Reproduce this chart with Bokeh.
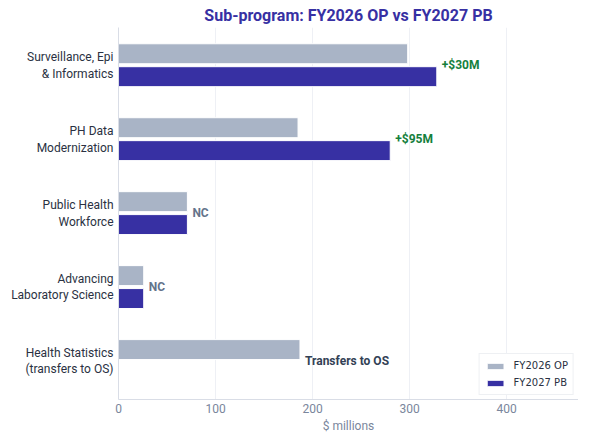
from bokeh.plotting import figure
from bokeh.models import FixedTicker, Range1d, ColumnDataSource, Legend, LegendItem, LabelSet, Spacer
from bokeh.layouts import row
from bokeh.core.properties import value
from bokeh.embed import file_html
from bokeh.resources import INLINE
import numpy as np

categories = ["Surveillance, Epi\n& Informatics", "PH Data\nModernization", "Public Health\nWorkforce",
              "Advancing\nLaboratory Science", "Health Statistics\n(transfers to OS)"]
fy2026_op = [298, 185, 71, 26, 187]
fy2027_pb = [328, 280, 71, 26, 0]
notes = ["+$30M", "+$95M", "NC", "NC", "Transfers to OS"]
note_colors = ["#15803d", "#15803d", "#64748b", "#64748b", "#334155"]
x_ticks = [0, 100, 200, 300, 400]

FONT = "Roboto"
pos = np.arange(len(categories))

p = figure(width=570, height=435, output_backend="svg", toolbar_location=None,
           x_range=Range1d(0, 474), y_range=Range1d(4.52, -0.51),
           min_border_left=0, min_border_right=0, min_border_top=0, min_border_bottom=0)

p.title.text = "Sub-program: FY2026 OP vs FY2027 PB"
p.title.align = "center"
p.title.text_font = FONT
p.title.text_font_size = "16px"
p.title.text_color = "#3730a3"
p.title.text_font_style = "bold"
p.title.offset = 0
p.title.standoff = 6

src = ColumnDataSource(dict(
    y_op=pos - 0.155, y_pb=pos + 0.155, op=fy2026_op, pb=fy2027_pb,
    ny=pos, nx=[max(a, b) for a, b in zip(fy2026_op, fy2027_pb)], note=notes, ncol=note_colors))

r_op = p.hbar(y="y_op", right="op", left=0, height=0.27, source=src,
              fill_color="#a9b4c6", line_color="white", line_width=1)
r_pb = p.hbar(y="y_pb", right="pb", left=0, height=0.27, source=src,
              fill_color="#3730a3", line_color="white", line_width=1)

labels = LabelSet(x="nx", y="ny", text="note", source=src, x_offset=5,
                  text_color="ncol", text_font=value(FONT), text_font_size="12px",
                  text_font_style="bold", text_baseline="middle", text_align="left")
p.add_layout(labels)

p.yaxis.ticker = FixedTicker(ticks=list(pos))
p.yaxis.major_label_overrides = {int(i): c for i, c in zip(pos, categories)}
p.yaxis.major_label_text_font = FONT
p.yaxis.major_label_text_font_size = "12px"
p.yaxis.major_label_text_color = "#2a3142"
p.yaxis.major_tick_line_color = None
p.yaxis.minor_tick_line_color = None
p.yaxis.major_tick_out = 0
p.yaxis.major_tick_in = 0
p.yaxis.axis_line_color = "#d9dde6"
p.yaxis.major_label_standoff = 5

p.xaxis.ticker = FixedTicker(ticks=x_ticks)
p.xaxis.major_label_text_font = FONT
p.xaxis.major_label_text_font_size = "12px"
p.xaxis.major_label_text_color = "#7a869c"
p.xaxis.major_tick_line_color = None
p.xaxis.minor_tick_line_color = None
p.xaxis.major_tick_out = 0
p.xaxis.major_tick_in = 0
p.xaxis.axis_line_color = "#d9dde6"
p.xaxis.axis_label = "$ millions"
p.xaxis.axis_label_text_font = FONT
p.xaxis.axis_label_text_font_size = "12px"
p.xaxis.axis_label_text_font_style = "normal"
p.xaxis.axis_label_text_color = "#7a869c"
p.xaxis.major_label_standoff = 4
p.xaxis.axis_label_standoff = 3

p.ygrid.grid_line_color = None
p.xgrid.grid_line_color = "#eef0f5"
p.outline_line_color = None

legend = Legend(items=[LegendItem(label="FY2026 OP", renderers=[r_op]),
                       LegendItem(label="FY2027 PB", renderers=[r_pb])],
                location="bottom_right", label_text_font="DejaVu Sans", label_text_font_size="10px",
                label_text_color="#2a3142", border_line_color="#dde1e8", background_fill_alpha=1,
                glyph_width=21, glyph_height=8, spacing=4, padding=5, margin=4,
                label_standoff=8, label_height=13)
p.add_layout(legend)

layout = row(Spacer(width=8, height=10), p)
open("out.html", "w").write(file_html(layout, INLINE))
